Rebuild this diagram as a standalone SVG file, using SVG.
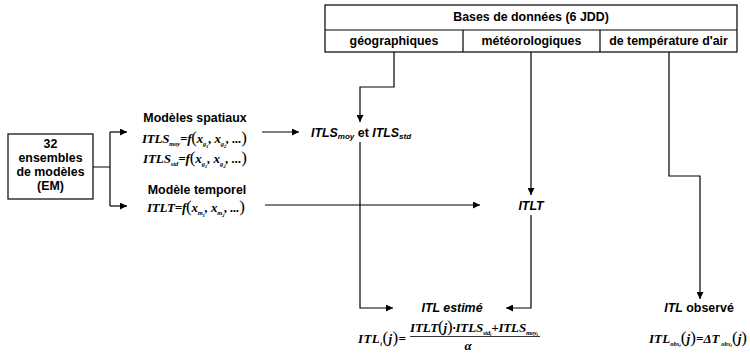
<svg xmlns="http://www.w3.org/2000/svg" width="750" height="353" viewBox="0 0 750 353">
<defs>
<style>
.b{font-family:"Liberation Sans",Arial,sans-serif;font-weight:bold;font-size:12.4px;fill:#000}
.bi{font-family:"Liberation Sans",Arial,sans-serif;font-weight:bold;font-style:italic;font-size:12.4px;fill:#000}
.sb{font-size:8px}
.m{font-family:"Liberation Serif","Times New Roman",serif;font-style:italic;font-weight:bold;font-size:13px;fill:#000}
.s{font-size:6.5px}
.ss{font-size:5px}
.p{font-style:normal;font-weight:normal;font-size:17px}
.ln{fill:none;stroke:#000;stroke-width:1.2}
.bx{fill:#fff;stroke:#000;stroke-width:1.2}
</style>
<marker id="ah" viewBox="0 0 10 10" refX="10" refY="5" markerWidth="9" markerHeight="7" markerUnits="userSpaceOnUse" orient="auto">
<path d="M0,0 L10,5 L0,10 z" fill="#000"/>
</marker>
</defs>
<rect width="750" height="353" fill="#fff"/>

<g id="em">
<rect class="bx" x="8" y="134" width="85" height="65"/>
<text class="b" text-anchor="middle" x="50.5" y="148">32</text>
<text class="b" text-anchor="middle" x="50.5" y="162">ensembles</text>
<text class="b" text-anchor="middle" x="50.5" y="176">de modèles</text>
<text class="b" text-anchor="middle" x="50.5" y="190">(EM)</text>
</g>

<g id="bdd">
<rect class="bx" x="325" y="5" width="412" height="47"/>
<line class="ln" x1="325" y1="30" x2="737" y2="30"/>
<line class="ln" x1="463" y1="30" x2="463" y2="52"/>
<line class="ln" x1="600" y1="30" x2="600" y2="52"/>
<text class="b" text-anchor="middle" x="531" y="21">Bases de données (6 JDD)</text>
<text class="b" text-anchor="middle" x="394" y="45">géographiques</text>
<text class="b" text-anchor="middle" x="531.5" y="45">météorologiques</text>
<text class="b" text-anchor="middle" x="668.5" y="45">de température d'air</text>
</g>

<g id="spatial">
<text class="b" text-anchor="middle" x="195" y="122">Modèles spatiaux</text>
<text class="m" x="142" y="143" textLength="105">ITLS<tspan class="s" dy="3">moy</tspan><tspan dy="-3">=f</tspan><tspan class="p">(</tspan>x<tspan class="s" dy="3">g</tspan><tspan class="ss" dy="2">1</tspan><tspan dy="-5">, x</tspan><tspan class="s" dy="3">g</tspan><tspan class="ss" dy="2">2</tspan><tspan dy="-5">, ...</tspan><tspan class="p">)</tspan></text>
<text class="m" x="143" y="163" textLength="104">ITLS<tspan class="s" dy="3">std</tspan><tspan dy="-3">=f</tspan><tspan class="p">(</tspan>x<tspan class="s" dy="3">g</tspan><tspan class="ss" dy="2">1</tspan><tspan dy="-5">, x</tspan><tspan class="s" dy="3">g</tspan><tspan class="ss" dy="2">2</tspan><tspan dy="-5">, ...</tspan><tspan class="p">)</tspan></text>
</g>

<g id="temporel">
<text class="b" text-anchor="middle" x="197" y="194">Modèle temporel</text>
<text class="m" x="147" y="212" textLength="98">ITLT=f<tspan class="p">(</tspan>x<tspan class="s" dy="3">m</tspan><tspan class="ss" dy="2">1</tspan><tspan dy="-5">, x</tspan><tspan class="s" dy="3">m</tspan><tspan class="ss" dy="2">2</tspan><tspan dy="-5">, ...</tspan><tspan class="p">)</tspan></text>
</g>

<g id="itls">
<text class="bi" x="311" y="137">ITLS<tspan class="sb" dy="2">moy</tspan><tspan dy="-2" font-style="normal"> et </tspan>ITLS<tspan class="sb" dy="2">std</tspan></text>
</g>

<g id="itlt">
<text class="bi" text-anchor="middle" x="531" y="210">ITLT</text>
</g>

<g id="estime">
<text class="bi" text-anchor="middle" x="452" y="312">ITL estimé</text>
<text class="m" x="358" y="343" textLength="48">ITL<tspan class="s" dy="3">i</tspan><tspan class="p" dy="-3">(</tspan>j<tspan class="p">)</tspan>=</text>
<text class="m" x="410" y="332" textLength="128">ITLT<tspan class="p">(</tspan>j<tspan class="p">)</tspan>·ITLS<tspan class="s" dy="3">std</tspan><tspan class="ss" dy="1">i</tspan><tspan dy="-4">+ITLS</tspan><tspan class="s" dy="3">moy</tspan><tspan class="ss" dy="1">i</tspan></text>
<line x1="410" y1="336.5" x2="540" y2="336.5" stroke="#000" stroke-width="0.8"/>
<text class="m" text-anchor="middle" x="468" y="350" font-size="11">α</text>
</g>

<g id="observe">
<text class="bi" text-anchor="middle" x="699" y="312">ITL<tspan font-style="normal"> observé</tspan></text>
<text class="m" x="649" y="343" textLength="98">ITL<tspan class="s" dy="3">obs</tspan><tspan class="ss" dy="1">i</tspan><tspan class="p" dy="-4">(</tspan>j<tspan class="p">)</tspan>=ΔT<tspan class="s" dy="3"> obs</tspan><tspan class="ss" dy="1">i</tspan><tspan class="p" dy="-4">(</tspan>j<tspan class="p">)</tspan></text>
</g>

<g id="connectors">
<path class="ln" d="M93,167 H110 M110,132 V206"/>
<path class="ln" d="M110,132 H127" marker-end="url(#ah)"/>
<path class="ln" d="M110,206 H127" marker-end="url(#ah)"/>
<path class="ln" d="M262,132 H299" marker-end="url(#ah)"/>
<path class="ln" d="M394,52 V87 H360 V122" marker-end="url(#ah)"/>
<path class="ln" d="M360,142 V308 H393" marker-end="url(#ah)"/>
<path class="ln" d="M265,205 H480" marker-end="url(#ah)"/>
<path class="ln" d="M531,52 V195" marker-end="url(#ah)"/>
<path class="ln" d="M531,215 V308 H506" marker-end="url(#ah)"/>
<path class="ln" d="M669,52 V176 H700 V299" marker-end="url(#ah)"/>
</g>
</svg>
